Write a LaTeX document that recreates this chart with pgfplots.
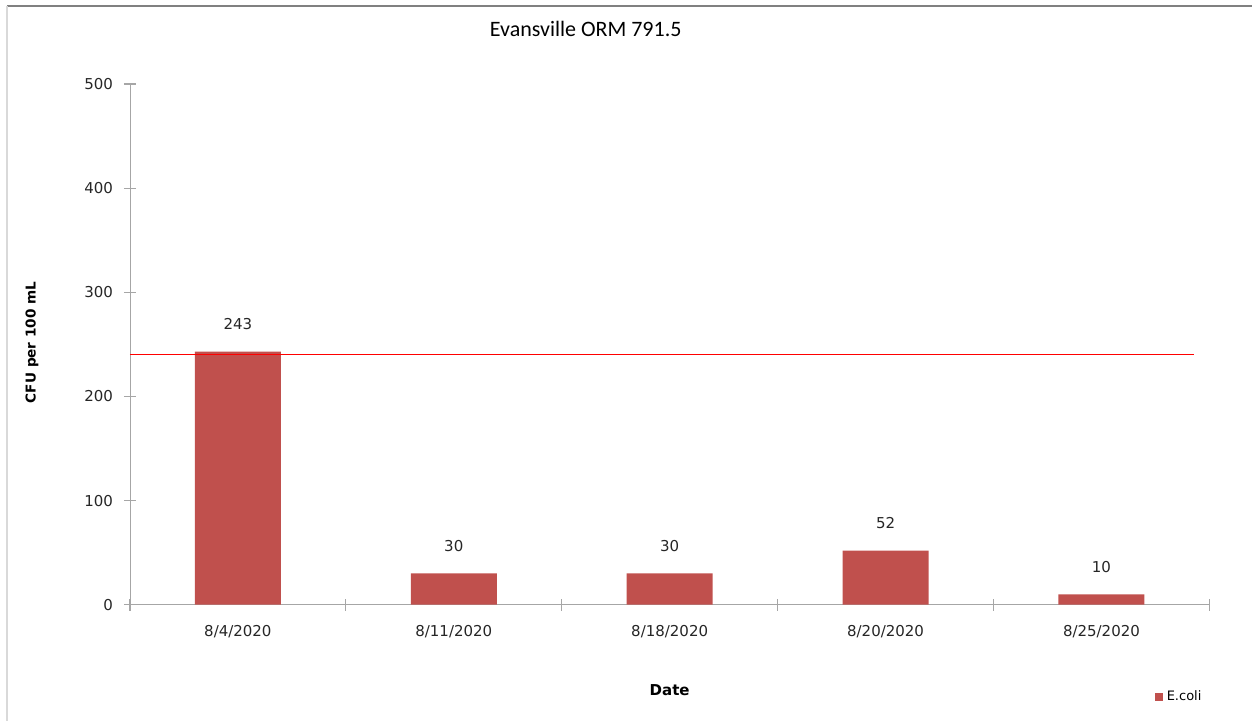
\documentclass[border=0pt]{standalone}
\usepackage{pgfplots}
\pgfplotsset{compat=1.18}
\usepackage{fontspec}
\setmainfont{DejaVu Sans}
\newfontfamily\calib{Carlito}
\definecolor{barred}{HTML}{C0504D}
\definecolor{axgrey}{HTML}{A6A6A6}
\begin{document}
\begin{tikzpicture}[x=1pt,y=1pt]
\path (0,0) rectangle (626.5,360.5);
\draw[color=black!50, line width=0.6pt] (3.5,357.5) -- (626.5,357.5);
\draw[color=black!15, line width=0.6pt] (3.5,357.5) -- (3.5,0);
\node[font=\calib\fontsize{11}{13}\selectfont] at (293,346) {Evansville ORM 791.5};
\begin{axis}[
  at={(65pt,58pt)}, anchor=south west,
  scale only axis, width=540pt, height=260.5pt,
  xmin=-0.5, xmax=4.5, ymin=0, ymax=500,
  axis lines=left, axis line style={draw=axgrey, -},
  xtick={0,1,2,3,4},
  xticklabels={8/4/2020,8/11/2020,8/18/2020,8/20/2020,8/25/2020},
  minor xtick={-0.5,0.5,1.5,2.5,3.5,4.5},
  major x tick style={draw=none},
  minor tick length=6pt,
  ytick={0,100,200,300,400,500},
  tick align=center, major tick length=6pt,
  tick style={draw=axgrey, line width=0.6pt},
  ticklabel style={font=\fontsize{7.5}{9}\selectfont, text=black!85},
  xticklabel style={yshift=-4pt},
  yticklabel style={xshift=-2pt},
  /pgf/number format/assume math mode=true,
  ylabel={\bfseries CFU per 100 mL},
  ylabel style={font=\fontsize{6.8}{8}\selectfont, at={(rel axis cs:0,0.5)}, anchor=center, yshift=49pt, xshift=1pt},
  xlabel={\bfseries Date},
  xlabel style={font=\fontsize{7.5}{9}\selectfont, at={(rel axis cs:0.5,0)}, anchor=center, yshift=-42.5pt},
  legend style={at={(rel axis cs:0.949,-0.177)}, anchor=west, draw=none, fill=none,
    font=\fontsize{6.5}{8}\selectfont, inner sep=0pt},
  legend image code/.code={\fill[barred] (0pt,-2pt) rectangle (4pt,2pt);},
  clip=false,
]
\addplot[ybar, bar width=43pt, fill=barred, draw=none,
  nodes near coords, nodes near coords style={font=\fontsize{7.5}{9}\selectfont, text=black!85, yshift=7.5pt},
  point meta=y]
  coordinates {(0,243) (1,30) (2,30) (3,52) (4,10)};
\addlegendentry{E.coli}
\addplot[forget plot, color=red, line width=0.6pt] coordinates {(-0.5,240) (4.43,240)};
\end{axis}
\end{tikzpicture}
\end{document}
